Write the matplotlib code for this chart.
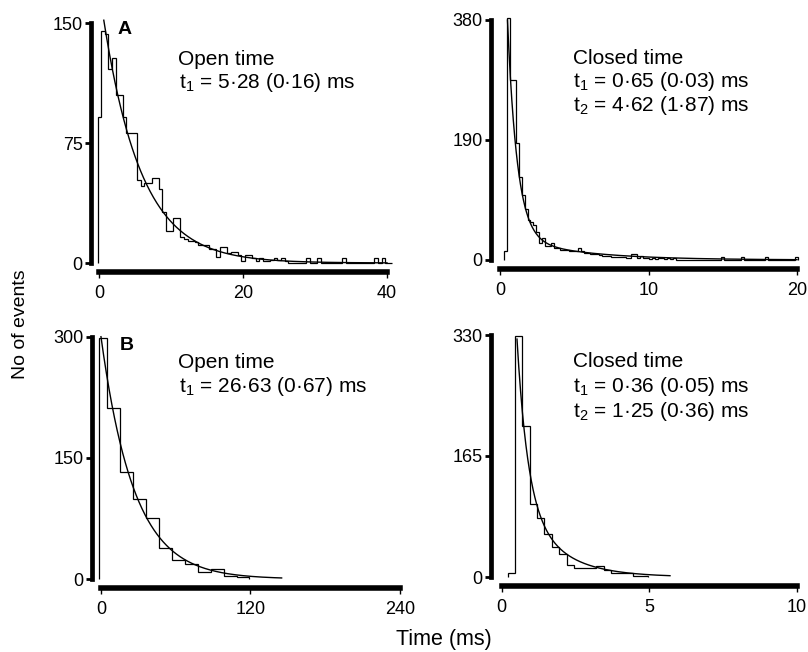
import matplotlib
matplotlib.use("Agg")
import matplotlib.pyplot as plt
import numpy as np

plt.rcParams["font.family"] = ["Liberation Sans", "DejaVu Sans"]
plt.rcParams["mathtext.fontset"] = "custom"
plt.rcParams["mathtext.rm"] = "Liberation Sans"

# A: open / closed dwell-time histograms (counts per bin)
A_OPEN_BIN_START, A_OPEN_BIN_WIDTH = -0.25, 0.5
A_OPEN_COUNTS = [
    91, 145, 143, 121, 128, 105, 105, 91, 81, 81, 81,
    52, 48, 50, 50, 53, 53, 46, 32, 20, 20,
    28, 28, 16, 15, 14, 14, 13, 11, 11, 11,
    9, 9, 4, 10, 10, 6, 7, 7, 5, 1,
    5, 5, 3, 1, 3, 1, 1, 2, 3, 2,
    3, 1, 0, 0, 0, 0, 0, 3, 0, 0,
    3, 0, 0, 0, 0, 0, 0, 3, 0, 0,
    0, 0, 0, 0, 0, 0, 3, 0, 3, 0, 0,
]
A_OPEN_TAU = [5.28]
A_OPEN_AMP = [170]

A_CLOSED_BIN_START, A_CLOSED_BIN_WIDTH = 0.25, 0.2
A_CLOSED_COUNTS = [
    14, 383, 285, 285, 185, 132, 103, 80, 64, 60,
    56, 45, 27, 35, 22, 22, 27, 19, 19, 16,
    16, 16, 14, 14, 14, 19, 14, 11, 11, 9, 9,
    9, 8, 6, 6, 6, 5, 5, 4, 4, 4, 3, 3, 9, 9, 3, 7, 3,
    3, 2, 3, 2, 3, 3, 2, 3, 2, 3,
    0, 0, 0, 0, 0, 0, 0, 0, 0, 0, 0, 0, 0, 0, 0, 4,
    0, 0, 0, 0, 0, 0, 4,
    0, 0, 0, 0, 0, 0, 0, 4,
    0, 0, 0, 0, 0, 0, 0, 0, 0, 4,
]
A_CLOSED_TAU = [0.65, 4.62]
A_CLOSED_AMP = [740, 41]

# B
B_OPEN_EDGES = [-1.5, 4.8, 15.2, 25.6, 36.0, 46.4, 56.8, 67.2, 77.6, 88.0, 98.4, 108.8, 119.2]
B_OPEN_COUNTS = [298, 212, 132, 99, 76, 39, 24, 19, 9, 13, 4, 2]
B_OPEN_TAU = [26.63]
B_OPEN_AMP = [300]

B_CLOSED_BIN_START, B_CLOSED_BIN_WIDTH = 0.2, 0.25
B_CLOSED_COUNTS = [6, 329, 206, 99, 80, 59, 41, 32, 16, 12, 12, 12, 15, 10, 5, 6, 6, 2, 2]
B_CLOSED_TAU = [0.36, 1.25]
B_CLOSED_AMP = [900, 170]

W, H = 808, 652


def uniform_edges(start, width, counts):
    return start + width * np.arange(len(counts) + 1)


def fit_curve(t, amps, taus):
    return sum(a * np.exp(-t / tau) for a, tau in zip(amps, taus))


def add_panel(fig, box, xlim, xticks, yticks, counts, edges, amps, taus, t_range):
    left, right, top, bottom = box
    ax = fig.add_axes([left / W, 1 - bottom / H, (right - left) / W, (bottom - top) / H])
    ax.stairs(counts, edges, baseline=0, color="black", lw=0.9, clip_on=False)
    t = np.linspace(t_range[0], t_range[1], 600)
    ax.plot(t, fit_curve(t, amps, taus), color="black", lw=1.0, clip_on=False)

    ax.set_xlim(xlim[0], xticks[-1])
    ax.set_ylim(0, yticks[-1])
    ax.set_xticks(xticks)
    ax.set_yticks(yticks)
    ax.set_xticklabels([str(v) for v in xticks])
    ax.set_yticklabels([str(v) for v in yticks])

    for side in ("top", "right"):
        ax.spines[side].set_visible(False)
    ax.spines["left"].set_linewidth(3.4)
    ax.spines["left"].set_bounds(0, yticks[-1])
    ax.spines["bottom"].set_linewidth(4.0)
    ax.spines["bottom"].set_bounds(0, xticks[-1])
    ax.spines["bottom"].set_position(("outward", 6.5))

    ax.tick_params(axis="y", direction="out", length=4.5, width=2.0, pad=1.5, labelsize=13)
    ax.tick_params(axis="x", direction="out", length=4, width=1.0, pad=5, labelsize=13)
    ax.patch.set_alpha(0)
    return ax


def put(fig, x, y, s, **kw):
    fig.text(x / W, 1 - y / H, s, **kw)


fig = plt.figure(figsize=(W / 100, H / 100), dpi=100)

add_panel(fig, (91, 387, 23, 263), (-1.18,), [0, 20, 40], [0, 75, 150],
          A_OPEN_COUNTS, uniform_edges(A_OPEN_BIN_START, A_OPEN_BIN_WIDTH, A_OPEN_COUNTS),
          A_OPEN_AMP, A_OPEN_TAU, (0.6, 40))
add_panel(fig, (491, 797, 20, 260), (-0.61,), [0, 10, 20], [0, 190, 380],
          A_CLOSED_COUNTS, uniform_edges(A_CLOSED_BIN_START, A_CLOSED_BIN_WIDTH, A_CLOSED_COUNTS),
          A_CLOSED_AMP, A_CLOSED_TAU, (0.5, 20))
add_panel(fig, (92, 400, 336.7, 579), (-7.2,), [0, 120, 240], [0, 150, 300],
          B_OPEN_COUNTS, B_OPEN_EDGES, B_OPEN_AMP, B_OPEN_TAU, (0, 145))
add_panel(fig, (491, 797, 335, 577), (-0.36,), [0, 5, 10], [0, 165, 330],
          B_CLOSED_COUNTS, uniform_edges(B_CLOSED_BIN_START, B_CLOSED_BIN_WIDTH, B_CLOSED_COUNTS),
          B_CLOSED_AMP, B_CLOSED_TAU, (0.52, 5.7))

txt = dict(fontsize=15, va="baseline", ha="left")
sub1 = r"t$_\mathrm{1}$"
sub2 = r"t$_\mathrm{2}$"
put(fig, 178, 65, "Open time", **txt)
put(fig, 179, 88, sub1 + " = 5·28 (0·16) ms", **txt)
put(fig, 573, 64, "Closed time", **txt)
put(fig, 573, 87, sub1 + " = 0·65 (0·03) ms", **txt)
put(fig, 573, 111, sub2 + " = 4·62 (1·87) ms", **txt)
put(fig, 178, 368, "Open time", **txt)
put(fig, 179, 392, sub1 + " = 26·63 (0·67) ms", **txt)
put(fig, 573, 367, "Closed time", **txt)
put(fig, 573, 392, sub1 + " = 0·36 (0·05) ms", **txt)
put(fig, 573, 417, sub2 + " = 1·25 (0·36) ms", **txt)

put(fig, 118, 34, "A", fontsize=14, fontweight="bold", va="baseline", ha="left")
put(fig, 120, 350, "B", fontsize=14, fontweight="bold", va="baseline", ha="left")

put(fig, 21, 324, "No of events", fontsize=14, rotation=90, ha="center", va="center")
put(fig, 444, 640, "Time (ms)", fontsize=15.5, ha="center", va="center")

fig.savefig("out.png", dpi=100)
